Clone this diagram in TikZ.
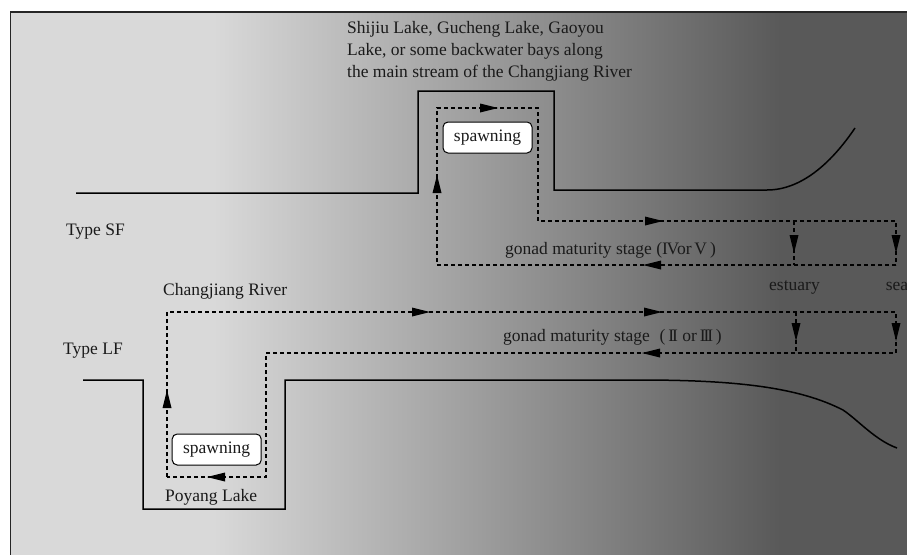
\documentclass[tikz,border=0pt]{standalone}
\usepackage{fontspec}
\setmainfont{Liberation Serif}
\usetikzlibrary{arrows.meta}
\definecolor{bglight}{HTML}{D9D9D9}
\definecolor{bgdark}{HTML}{595959}
\definecolor{inkc}{HTML}{1A1A1A}
\newcommand{\myrnII}{I\kern-0.12em I}
\newcommand{\myrnIII}{I\kern-0.12em I\kern-0.12em I}
\newcommand{\myrnIV}{I\kern-0.08em V}
\newcommand{\myrnV}{V}
% explicit arrow heads: tip at (#1,#2)
\newcommand{\headR}[2]{\fill[black] (#1,#2) -- ({#1-18},{#2-4.5}) -- ({#1-18},{#2+4.5}) -- cycle;}
\newcommand{\headL}[2]{\fill[black] (#1,#2) -- ({#1+18},{#2-4.5}) -- ({#1+18},{#2+4.5}) -- cycle;}
\newcommand{\headU}[2]{\fill[black] (#1,#2) -- ({#1-4.5},{#2+18}) -- ({#1+4.5},{#2+18}) -- cycle;}
\newcommand{\headD}[2]{\fill[black] (#1,#2) -- ({#1-4.5},{#2-18}) -- ({#1+4.5},{#2-18}) -- cycle;}
\tikzset{
  river/.style={line width=1.5pt, black},
  route/.style={line width=1.2pt, black, dash pattern=on 4pt off 3pt},
  lbl/.style={font=\fontsize{17.5}{22.2}\selectfont, inner sep=0pt, anchor=base west, text=inkc},
  spawnbox/.style={draw, fill=white, rounded corners=5pt, line width=1pt, minimum width=89pt, minimum height=31pt, inner sep=0pt, font=\fontsize{17.5}{22}\selectfont, text=inkc},
}
\begin{document}
\begin{tikzpicture}[x=1pt,y=-1pt]
\useasboundingbox (0,0) rectangle (907,554);
\clip (0,0) rectangle (907,554);
% background
\fill[bglight] (10,12) rectangle (214,570);
\shade[left color=bglight,right color=bgdark] (213,12) rectangle (781,570);
\fill[bgdark] (780,12) rectangle (930,570);
\draw[line width=1.5pt, black!85] (10.5,580) -- (10.5,12) -- (930,12);

% ---- Type SF ----
\draw[river] (76,193) -- (418,193) -- (418,91) -- (554,91) -- (554,190) -- (767,190)
  .. controls (800,190) and (830,165) .. (855,128);
\coordinate (sa) at (437,265);
\coordinate (sb) at (437,108);
\coordinate (sc) at (538,108);
\coordinate (sd) at (538,221);
\coordinate (se) at (896,221);
\coordinate (sf) at (896,265);
\coordinate (sg) at (794,221);
\coordinate (sh) at (794,265);
\draw[route] (sf) -- (sa) -- (sb) -- (sc) -- (sd) -- (se) -- cycle;
\draw[route] (sg) -- (sh);
\headU{437}{175}
\headR{498}{108}
\headR{663}{221}
\headD{794}{253}
\headD{896}{253}
\headL{643}{265}

% ---- Type LF ----
\draw[river] (83,380) -- (143,380) -- (143,509) -- (285,509) -- (285,380) -- (640,380)
  .. controls (740,380) and (800,388) .. (843,410)
  .. controls (858,420) and (875,440) .. (897,448);
\coordinate (la) at (167,477);
\coordinate (lb) at (167,312);
\coordinate (lc) at (896,312);
\coordinate (ld) at (896,353);
\coordinate (le) at (266,353);
\coordinate (lf) at (266,477);
\coordinate (lg) at (796,312);
\coordinate (lh) at (796,353);
\draw[route] (la) -- (lb) -- (lc) -- (ld) -- (le) -- (lf) -- cycle;
\draw[route] (lg) -- (lh);
\headU{167}{390}
\headR{430}{312}
\headR{662}{312}
\headL{642}{353}
\headD{796}{341}
\headD{896}{341}
\headL{207}{477}

% ---- texts ----
\node[lbl] (t1) at (347,33.3) {Shijiu Lake, Gucheng Lake, Gaoyou};
\node[lbl] (t2) at (347,55.5) {Lake, or some backwater bays along};
\node[lbl] (t3) at (347,77.7) {the main stream of the Changjiang River};
\node[lbl] (tsf) at (66,235) {Type SF};
\node[lbl] (tlf) at (63,354) {Type LF};
\node[lbl] (cr) at (163,295.7) {Changjiang River};
\node[lbl] (pl) at (165,501) {Poyang Lake};
\node[lbl] (g1) at (505,254) {gonad maturity stage (\myrnIV or\,\myrnV\,)};
\node[lbl] (est) at (769,290.7) {estuary};
\node[lbl] (sea) at (885.7,290.7) {sea};
\node[lbl] (g2) at (503,341.7) {gonad maturity stage\hspace{0.55em}(\,\myrnII\ or\,\myrnIII\,)};
\node[spawnbox] (sp1) at (487.5,137.5) {spawning};
\node[spawnbox] (sp2) at (216.7,449.5) {spawning};
\end{tikzpicture}
\end{document}
